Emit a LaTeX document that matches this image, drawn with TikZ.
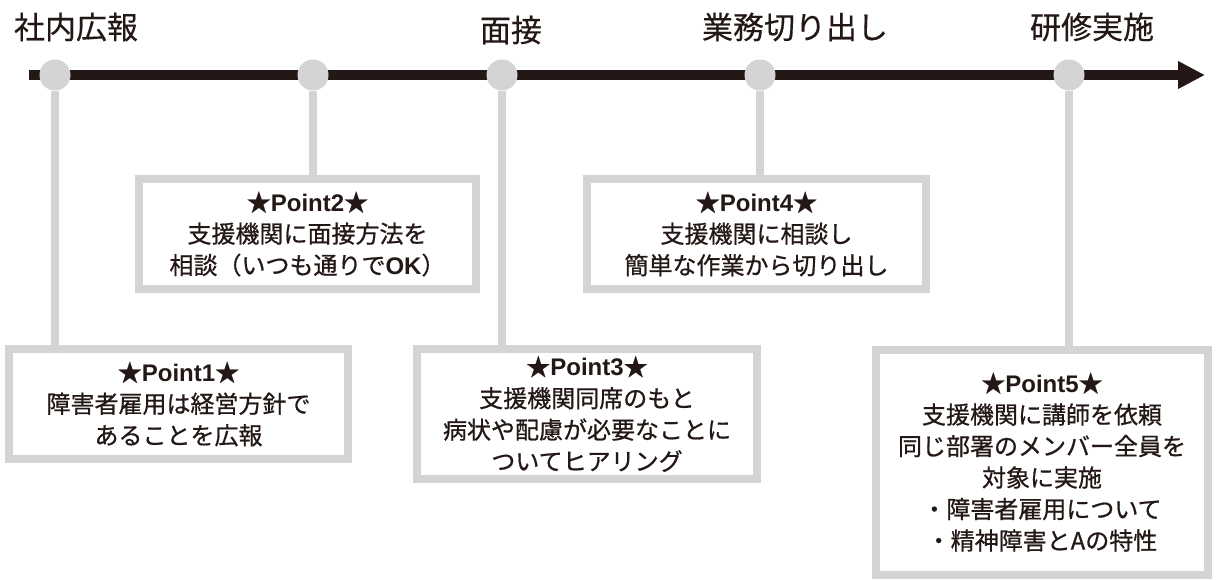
\documentclass[tikz,border=0pt]{standalone}
\usepackage{fontspec}
\setmainfont{Noto Sans CJK JP}
\newfontfamily\medfont{Noto Sans CJK JP}[FakeBold=0.7]
\newfontfamily\titfont{Noto Sans CJK JP}[FakeBold=0.35]
\newfontfamily\latbold{Liberation Sans Bold}
\usetikzlibrary{arrows.meta}
\definecolor{ink}{HTML}{231815}
\definecolor{lgray}{HTML}{D4D4D4}
\newcommand{\pointlab}[1]{{\medfont ★}{\latbold Point#1}{\medfont ★}}
\tikzset{
  title/.style={font=\titfont\fontsize{31}{36}\selectfont, text=ink, inner sep=0pt, anchor=center},
  dot/.style={circle, fill=lgray, minimum size=31pt, inner sep=0pt},
  stem/.style={draw=lgray, line width=8pt},
  pointbox/.style={draw=lgray, line width=8pt, fill=white, align=center, text=ink,
    font=\medfont\fontsize{24}{31.5}\selectfont, inner sep=0pt},
  axis/.style={draw=ink, line width=10pt, -{Triangle[length=27pt,width=26pt]}}
}
\begin{document}
\begin{tikzpicture}[x=1pt,y=-1pt]
\useasboundingbox (0,0) rectangle (1216,579);
% titles
\node[title] (t1) at (76,27) {社内広報};
\node[title] (t2) at (511,30) {面接};
\node[title] (t3) at (795,27) {業務切り出し};
\node[title] (t4) at (1092,27) {研修実施};
% axis
\coordinate (as) at (29,75);
\coordinate (ae) at (1205,75);
\draw[axis] (as) -- (ae);
% dots
\node[dot] (c1) at (55,75) {};
\node[dot] (c2) at (313,75) {};
\node[dot] (c3) at (502,75) {};
\node[dot] (c4) at (760,75) {};
\node[dot] (c5) at (1069,75) {};
% boxes
\node[pointbox, minimum width=339pt, minimum height=110pt] (b1) at (178.5,404)
  {\pointlab{1}\\障害者雇用は経営方針で\\あることを広報};
\node[pointbox, minimum width=337pt, minimum height=110pt] (b2) at (307.5,234)
  {\pointlab{2}\\支援機関に面接方法を\\相談（いつも通りで{\latbold OK}）};
\node[pointbox, minimum width=340pt, minimum height=130pt] (b3) at (587,414)
  {\pointlab{3}\\支援機関同席のもと\\病状や配慮が必要なことに\\ついてヒアリング};
\node[pointbox, minimum width=339pt, minimum height=110pt] (b4) at (756.5,234)
  {\pointlab{4}\\支援機関に相談し\\簡単な作業から切り出し};
\node[pointbox, minimum width=332pt, minimum height=225pt] (b5) at (1042,462)
  {\pointlab{5}\\支援機関に講師を依頼\\同じ部署のメンバー全員を\\対象に実施\\・障害者雇用について\\・精神障害とAの特性};
% stems
\draw[stem] (c1.south) -- (c1.south |- b1.north);
\draw[stem] (c2.south) -- (c2.south |- b2.north);
\draw[stem] (c3.south) -- (c3.south |- b3.north);
\draw[stem] (c4.south) -- (c4.south |- b4.north);
\draw[stem] (c5.south) -- (c5.south |- b5.north);
\end{tikzpicture}
\end{document}
